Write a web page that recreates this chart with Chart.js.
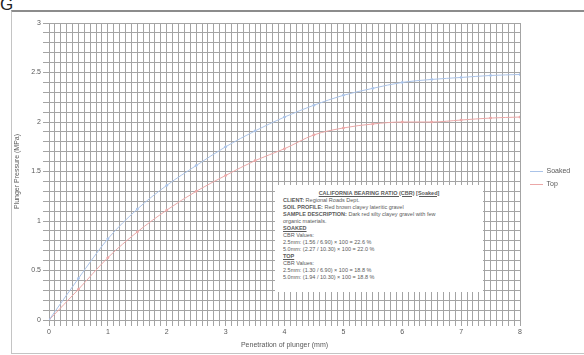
<!DOCTYPE html>
<html>
<head>
<meta charset="utf-8">
<script src="https://cdn.jsdelivr.net/npm/chart.js@4"></script>
<style>
  html, body { margin: 0; padding: 0; background: #fff; width: 584px; height: 355px; overflow: hidden;
    font-family: "Liberation Sans", Arial, sans-serif; }
  #mark { position: absolute; left: 0; top: -4px; font-size: 17px; line-height: 17px; color: #222; }
  #frame { position: absolute; left: 11px; top: 10px; width: 590px; height: 341px;
    border-top: 2px solid #8c8c8c; border-left: 1px solid #c4c4c4; border-bottom: 1px solid #c4c4c4; }
  #chart { position: absolute; left: 13px; top: 12px; }
  #notes { position: absolute; left: 275px; top: 185px; width: 200px; height: 102.5px; padding: 4.5px 0 0 8px;
    background: #fff; font-size: 5.5px; line-height: 7px; color: #5a5a5a; z-index: 2; white-space: nowrap; }
  #notes .head { text-align: center; padding-right: 8px; }
  #notes .sec { font-weight: bold; text-decoration: underline; }
</style>
</head>
<body>
<div id="mark">G</div>
<div id="frame"></div>
<canvas id="chart" width="566" height="339"></canvas>
<div id="notes">
  <div class="head"><b><u>CALIFORNIA BEARING RATIO (CBR) [Soaked]</u></b></div>
  <div><b>CLIENT:</b> Regional Roads Dept.</div>
  <div><b>SOIL PROFILE:</b> Red brown clayey lateritic gravel</div>
  <div><b>SAMPLE DESCRIPTION:</b> Dark red silty clayey gravel with few</div>
  <div>organic materials.</div>
  <div class="sec">SOAKED</div>
  <div>CBR Values:</div>
  <div id="soaked25"></div>
  <div id="soaked50"></div>
  <div class="sec">TOP</div>
  <div>CBR Values:</div>
  <div id="top25"></div>
  <div id="top50"></div>
</div>
<script>
// Penetration of plunger (mm)
const penetration = [0, 0.5, 1, 1.5, 2, 2.5, 3, 3.5, 4, 4.5, 5, 5.5, 6, 6.5, 7, 7.5, 8];
// Plunger pressure (MPa) for each specimen
const soakedPressure = [0, 0.42, 0.82, 1.12, 1.36, 1.56, 1.75, 1.91, 2.05, 2.17, 2.27, 2.34, 2.40, 2.43, 2.45, 2.47, 2.48];
const topPressure    = [0, 0.31, 0.63, 0.89, 1.11, 1.30, 1.46, 1.61, 1.73, 1.87, 1.94, 1.98, 2.00, 2.00, 2.02, 2.04, 2.05];
const seriesNames = ['Soaked', 'Top'];
// Standard pressures (MPa) at 2.5 mm and 5.0 mm penetration
const standardPressure = { 2.5: 6.9, 5: 10.3 };

// CBR text lines
function cbrLine(values, pen) {
  const p = values[penetration.indexOf(pen)];
  const s = standardPressure[pen];
  const cbr = (p / s * 100).toFixed(1);
  return pen.toFixed(1) + 'mm: (' + p.toFixed(2) + ' / ' + s.toFixed(2) + ') \u00d7 100 = ' + cbr + ' %';
}
document.getElementById('soaked25').textContent = cbrLine(soakedPressure, 2.5);
document.getElementById('soaked50').textContent = cbrLine(soakedPressure, 5);
document.getElementById('top25').textContent = cbrLine(topPressure, 2.5);
document.getElementById('top50').textContent = cbrLine(topPressure, 5);

Chart.defaults.font.family = "'Liberation Sans', Arial, sans-serif";
Chart.defaults.font.size = 7;
Chart.defaults.color = '#595959';

const gridColor = '#a4a4a4';
const soakedColor = '#aac3e8';
const topColor = '#eba7a7';
const near = (v, step) => Math.abs(v / step - Math.round(v / step)) < 1e-6;

// fixed legend column width and vertical placement
const legendPlacement = {
  id: 'legendPlacement',
  beforeLayout(chart) {
    const lg = chart.legend;
    if (lg && !lg._fixedWidth) {
      const fit = lg.fit.bind(lg);
      lg.fit = function () { fit(); this.width = 59; };
      lg._fixedWidth = true;
    }
  },
  afterLayout(chart) {
    const lg = chart.legend;
    if (!lg) return;
    const shift = 166 - (lg.top + lg.bottom) / 2;
    lg.top += shift; lg.bottom += shift;
    lg.left += 4; lg.right += 4;
  }
};

new Chart(document.getElementById('chart'), {
  type: 'line',
  data: {
    datasets: [
      {
        label: seriesNames[0],
        data: penetration.map((x, i) => ({ x, y: soakedPressure[i] })),
        borderColor: soakedColor, backgroundColor: soakedColor, pointBorderColor: soakedColor,
        borderWidth: 1, pointRadius: 1, pointBorderWidth: 1,
        cubicInterpolationMode: 'monotone'
      },
      {
        label: seriesNames[1],
        data: penetration.map((x, i) => ({ x, y: topPressure[i] })),
        borderColor: topColor, backgroundColor: topColor, pointBorderColor: topColor,
        borderWidth: 1, pointRadius: 1, pointBorderWidth: 1,
        cubicInterpolationMode: 'monotone'
      }
    ]
  },
  options: {
    responsive: false,
    animation: false,
    layout: { padding: { top: 11, left: 0, right: 0, bottom: 0 } },
    plugins: {
      legend: {
        position: 'right',
        labels: {
          usePointStyle: true, pointStyle: 'line', pointStyleWidth: 13,
          padding: 6, color: '#595959', font: { size: 7 }
        }
      },
      tooltip: { enabled: false }
    },
    scales: {
      x: {
        type: 'linear', min: 0, max: 8,
        afterFit(s) { s.height = 31; },
        ticks: {
          stepSize: 0.1, autoSkip: false, maxRotation: 0, padding: 2,
          callback: v => near(v, 1) ? String(Math.round(v)) : ''
        },
        grid: { color: gridColor, lineWidth: 1, tickLength: 6 },
        border: { color: gridColor },
        title: { display: true, text: 'Penetration of plunger (mm)', font: { size: 7 }, padding: { top: 0, bottom: 2 } }
      },
      y: {
        type: 'linear', min: 0, max: 3,
        afterFit(s) { s.width = 36; },
        ticks: {
          stepSize: 0.1, autoSkip: false, padding: 2,
          callback: v => near(v, 0.5) ? String(Math.round(v * 2) / 2) : ''
        },
        grid: { color: gridColor, lineWidth: 1, tickLength: 6 },
        border: { color: gridColor },
        title: { display: true, text: 'Plunger Pressure (MPa)', font: { size: 7 }, padding: { top: 0, bottom: 0 } }
      }
    }
  },
  plugins: [legendPlacement]
});
</script>
</body>
</html>
